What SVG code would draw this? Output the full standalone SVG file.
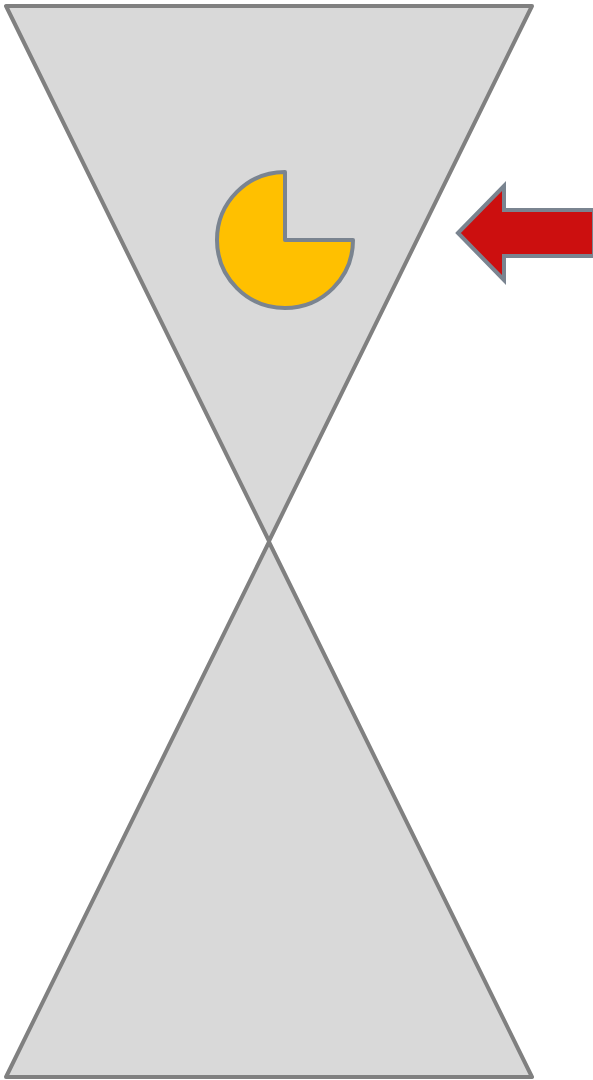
<svg xmlns="http://www.w3.org/2000/svg" width="593" height="1080" viewBox="0 0 593 1080">
<style>
.tri{fill:#d9d9d9;stroke:#808080;stroke-width:4;stroke-linejoin:round}
.pie{fill:#ffc000;stroke:#7a8490;stroke-width:4;stroke-linejoin:round}
.arr{fill:#cc0f0f;stroke:#7a8490;stroke-width:4;stroke-linejoin:miter}
</style>
<rect width="593" height="1080" fill="#ffffff"/>
<g id="top-triangle"><polygon class="tri" points="6,6 532,6 269,541"/></g>
<g id="bottom-triangle"><polygon class="tri" points="269,542 532,1077 6,1077"/></g>
<g id="pie"><path class="pie" d="M285,240 L285,172 A68,68 0 1,0 353,240 Z"/></g>
<g id="arrow"><path class="arr" d="M458,233 L504,186 L504,210 L594,210 L594,256 L504,256 L504,280 Z"/></g>
</svg>
